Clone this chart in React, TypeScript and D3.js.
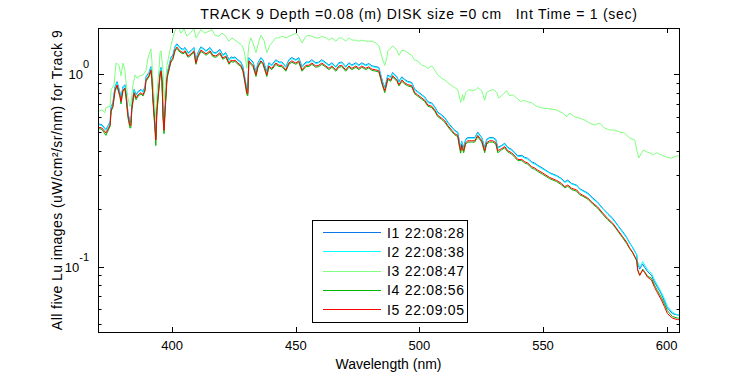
import React from "react";
import * as d3 from "d3";

const title = "TRACK 9 Depth =0.08 (m) DISK size =0 cm   Int Time = 1 (sec)";
const xLabel = "Wavelength (nm)";
const yLabel = "All five Lu images (uW/cm²/sr/nm) for Track 9";
const legendLabels = ["I1 22:08:28", "I2 22:08:38", "I3 22:08:47", "I4 22:08:56", "I5 22:09:05"];
const seriesColors = ["#0a78e8", "#00ffff", "#80ff80", "#00b400", "#ff0000"];
const xTicks = [400, 450, 500, 550, 600];
const yMajorTicks = [{ v: 1, exp: "0" }, { v: 0.1, exp: "-1" }];
const yMinorTicks = [0.05, 0.06, 0.07, 0.08, 0.09, 0.2, 0.3, 0.4, 0.5, 0.6, 0.7, 0.8, 0.9];

// wavelengths shared by I1, I2, I4, I5
const wl = [370.0,371.6,373.2,374.9,375.3,376.0,376.9,377.7,378.9,379.3,380.1,380.9,381.3,382.1,382.9,383.3,383.7,384.6,385.4,386.2,387.4,388.2,389.0,389.4,390.6,391.4,391.8,392.2,393.0,393.4,393.8,394.7,395.1,395.5,395.9,396.3,396.7,397.1,397.9,398.3,399.5,400.3,401.1,401.9,403.1,404.4,405.2,406.4,407.6,408.8,409.6,410.4,411.6,412.8,413.7,415.3,416.5,417.7,419.3,420.5,421.7,423.0,423.8,424.6,425.4,426.6,427.8,428.6,429.4,430.2,430.6,431.0,431.8,432.7,433.9,434.7,435.9,436.7,438.3,439.1,440.3,441.9,443.2,444.4,446.0,447.2,448.4,450.0,451.2,452.5,454.1,455.3,456.5,458.1,459.3,460.5,462.2,463.4,464.6,466.2,467.4,468.6,470.2,471.5,472.7,474.3,475.5,476.7,478.3,479.5,480.8,482.4,483.6,484.4,485.2,486.0,486.8,487.2,488.4,489.2,490.9,491.7,492.9,494.1,495.3,496.9,498.1,499.3,501.0,502.2,503.4,505.0,506.2,507.4,509.0,510.3,511.5,513.1,514.3,515.5,516.3,516.7,517.1,517.9,518.7,519.6,521.2,522.4,523.6,525.2,526.4,527.2,528.4,529.7,530.9,531.7,533.3,534.5,535.7,537.3,538.6,539.8,541.4,542.6,543.8,545.4,546.6,547.8,549.9,552.7,555.5,557.5,558.8,560.0,561.6,563.6,564.8,566.0,568.1,570.1,572.1,574.1,576.1,578.2,580.2,582.2,583.8,585.0,586.2,587.9,588.3,589.1,589.9,590.3,591.1,592.3,593.9,595.1,596.3,597.9,599.1,600.3,602.3,604.3,605.0];

const i5 = [0.530,0.524,0.494,0.543,0.650,0.680,0.826,0.877,0.770,0.720,0.826,0.846,0.780,0.610,0.543,0.540,0.665,0.800,0.750,0.780,0.800,0.780,0.826,0.930,0.980,1.050,0.950,0.750,0.540,0.455,0.640,0.866,0.990,1.040,0.920,0.610,0.510,0.640,0.950,1.010,1.170,1.210,1.330,1.380,1.320,1.290,1.320,1.240,1.270,1.320,1.140,1.240,1.330,1.300,1.270,1.320,1.250,1.240,1.290,1.210,1.240,1.140,1.180,1.170,1.180,1.140,1.110,1.050,0.920,0.800,0.790,1.170,1.140,1.110,0.990,1.100,1.170,1.140,0.990,1.100,1.070,1.140,1.110,1.110,1.050,1.140,1.170,1.140,1.170,1.050,1.110,1.110,1.140,1.100,1.110,1.140,1.100,1.070,1.100,1.050,1.100,1.110,1.050,1.100,1.070,1.100,1.070,1.100,1.070,1.090,1.060,1.050,1.040,0.950,0.870,0.820,0.900,0.950,0.930,0.980,0.930,0.880,0.930,0.900,0.880,0.870,0.800,0.780,0.750,0.730,0.690,0.680,0.650,0.610,0.590,0.570,0.540,0.510,0.490,0.480,0.420,0.400,0.430,0.400,0.440,0.450,0.450,0.450,0.480,0.450,0.400,0.440,0.450,0.450,0.440,0.400,0.410,0.420,0.400,0.390,0.375,0.360,0.360,0.350,0.345,0.330,0.325,0.317,0.306,0.290,0.280,0.270,0.260,0.265,0.255,0.250,0.240,0.235,0.227,0.214,0.204,0.190,0.178,0.168,0.155,0.143,0.134,0.125,0.119,0.108,0.096,0.090,0.094,0.096,0.093,0.088,0.085,0.078,0.073,0.067,0.062,0.057,0.054,0.053,0.053];

const i1 = [0.551,0.545,0.514,0.565,0.676,0.707,0.859,0.912,0.801,0.749,0.859,0.880,0.811,0.634,0.565,0.562,0.692,0.832,0.780,0.811,0.832,0.811,0.859,0.967,1.019,1.092,0.988,0.780,0.562,0.473,0.666,0.901,1.030,1.082,0.957,0.634,0.530,0.666,0.988,1.050,1.217,1.258,1.383,1.435,1.373,1.342,1.373,1.290,1.321,1.373,1.186,1.290,1.383,1.352,1.321,1.373,1.300,1.290,1.342,1.258,1.290,1.186,1.227,1.217,1.227,1.186,1.154,1.092,0.957,0.832,0.822,1.217,1.186,1.154,1.030,1.144,1.217,1.186,1.030,1.144,1.113,1.186,1.154,1.154,1.092,1.186,1.217,1.186,1.217,1.092,1.154,1.154,1.186,1.144,1.154,1.186,1.144,1.113,1.144,1.092,1.144,1.154,1.092,1.144,1.113,1.144,1.113,1.144,1.113,1.134,1.102,1.092,1.082,0.988,0.905,0.853,0.936,0.988,0.967,1.019,0.967,0.915,0.967,0.936,0.915,0.905,0.832,0.811,0.780,0.759,0.718,0.707,0.676,0.634,0.614,0.593,0.562,0.530,0.510,0.499,0.437,0.416,0.447,0.416,0.458,0.468,0.468,0.468,0.499,0.468,0.416,0.458,0.468,0.468,0.458,0.416,0.426,0.437,0.416,0.406,0.390,0.376,0.378,0.369,0.365,0.350,0.345,0.336,0.324,0.307,0.297,0.286,0.276,0.281,0.270,0.265,0.254,0.249,0.241,0.227,0.216,0.201,0.189,0.178,0.164,0.152,0.142,0.133,0.126,0.115,0.104,0.097,0.101,0.103,0.099,0.094,0.090,0.083,0.078,0.072,0.066,0.061,0.057,0.056,0.056];

const i2 = [0.546,0.540,0.509,0.559,0.670,0.700,0.851,0.903,0.793,0.742,0.851,0.871,0.803,0.628,0.559,0.556,0.685,0.824,0.773,0.803,0.824,0.803,0.851,0.958,1.009,1.082,0.979,0.773,0.556,0.469,0.659,0.892,1.020,1.071,0.948,0.628,0.525,0.659,0.979,1.040,1.205,1.246,1.370,1.421,1.360,1.329,1.360,1.277,1.308,1.360,1.174,1.277,1.370,1.339,1.308,1.360,1.288,1.277,1.329,1.246,1.277,1.174,1.215,1.205,1.215,1.174,1.143,1.082,0.948,0.824,0.814,1.205,1.174,1.143,1.020,1.133,1.205,1.174,1.020,1.133,1.102,1.174,1.143,1.143,1.082,1.174,1.205,1.174,1.205,1.082,1.143,1.143,1.174,1.133,1.143,1.174,1.133,1.102,1.133,1.082,1.133,1.143,1.082,1.133,1.102,1.133,1.102,1.133,1.102,1.123,1.092,1.082,1.071,0.979,0.896,0.845,0.927,0.979,0.958,1.009,0.958,0.906,0.958,0.927,0.906,0.896,0.824,0.803,0.773,0.752,0.711,0.700,0.670,0.628,0.608,0.587,0.556,0.525,0.505,0.494,0.433,0.412,0.443,0.412,0.453,0.464,0.464,0.464,0.494,0.464,0.412,0.453,0.464,0.464,0.453,0.412,0.422,0.433,0.412,0.402,0.386,0.372,0.374,0.365,0.361,0.346,0.341,0.333,0.321,0.305,0.294,0.284,0.273,0.278,0.268,0.263,0.252,0.247,0.238,0.225,0.214,0.200,0.187,0.176,0.163,0.150,0.141,0.132,0.126,0.115,0.105,0.099,0.103,0.106,0.102,0.096,0.092,0.085,0.080,0.073,0.068,0.062,0.058,0.056,0.056];

const i4 = [0.522,0.516,0.480,0.535,0.640,0.670,0.814,0.864,0.758,0.700,0.814,0.833,0.768,0.595,0.525,0.525,0.655,0.788,0.735,0.768,0.788,0.768,0.814,0.916,0.965,1.034,0.936,0.735,0.520,0.425,0.620,0.853,0.975,1.024,0.906,0.590,0.490,0.620,0.936,0.995,1.152,1.192,1.310,1.359,1.300,1.271,1.300,1.221,1.251,1.300,1.123,1.221,1.310,1.281,1.251,1.300,1.231,1.221,1.271,1.192,1.221,1.123,1.162,1.152,1.162,1.123,1.093,1.034,0.906,0.780,0.770,1.152,1.123,1.093,0.970,1.084,1.152,1.123,0.970,1.084,1.054,1.123,1.093,1.093,1.034,1.123,1.152,1.123,1.152,1.034,1.093,1.093,1.123,1.084,1.093,1.123,1.084,1.054,1.084,1.034,1.084,1.093,1.034,1.084,1.054,1.084,1.054,1.084,1.054,1.074,1.044,1.034,1.024,0.936,0.857,0.800,0.887,0.936,0.916,0.965,0.916,0.867,0.916,0.887,0.867,0.857,0.788,0.768,0.739,0.719,0.680,0.670,0.640,0.601,0.581,0.561,0.532,0.502,0.483,0.473,0.410,0.388,0.420,0.390,0.433,0.443,0.443,0.443,0.473,0.443,0.390,0.433,0.443,0.443,0.433,0.390,0.404,0.414,0.394,0.384,0.369,0.355,0.355,0.345,0.340,0.325,0.320,0.312,0.301,0.286,0.276,0.266,0.256,0.261,0.251,0.246,0.236,0.232,0.224,0.211,0.201,0.187,0.175,0.166,0.153,0.141,0.132,0.124,0.118,0.107,0.096,0.090,0.094,0.097,0.094,0.089,0.087,0.080,0.075,0.069,0.064,0.059,0.055,0.054,0.054];

// I3 has its own sampling
const wl3 = [370.0,371.6,372.8,373.2,374.9,375.3,376.5,377.3,378.5,379.3,380.1,380.9,381.3,382.1,382.9,383.3,384.1,385.0,385.8,387.0,388.2,389.4,390.2,391.4,391.8,392.2,393.0,393.4,393.8,394.7,395.1,395.5,396.3,396.7,397.1,397.9,398.3,399.5,400.3,401.1,402.3,403.5,404.8,406.0,407.6,408.8,409.6,410.8,411.6,413.2,414.9,416.1,417.3,418.9,420.1,421.3,423.0,424.2,425.4,427.0,428.2,429.0,429.8,430.2,431.0,431.8,432.7,433.9,435.1,435.9,437.1,438.3,439.5,440.3,441.9,443.2,444.4,446.0,447.2,448.4,450.0,451.2,452.5,454.1,455.3,456.5,458.1,459.3,460.5,462.2,463.4,464.6,466.2,467.4,468.6,470.2,471.5,472.7,474.3,475.5,476.7,478.3,479.5,480.8,482.4,483.6,484.4,485.2,486.0,486.8,487.2,488.4,489.2,490.9,491.7,492.9,494.1,495.3,496.9,498.1,499.3,501.0,502.2,503.4,505.0,506.2,507.4,509.0,510.3,511.5,513.1,514.3,515.5,516.3,516.7,517.5,517.9,518.7,520.0,521.6,522.8,523.6,525.2,526.4,527.2,528.4,530.1,531.3,532.1,533.7,535.3,536.5,537.7,539.4,541.0,542.2,543.4,545.4,547.4,549.9,552.7,555.5,558.0,559.6,560.8,562.8,564.8,566.8,568.9,570.9,572.9,574.9,576.9,579.0,581.0,583.0,585.0,587.1,587.9,588.7,589.9,590.7,591.9,593.1,594.3,595.9,597.9,599.9,601.9,603.9,605.0];

const i3 = [0.64,0.65,0.63,0.67,0.68,0.83,0.88,1.14,1.11,0.98,1.14,1.04,0.92,0.75,0.68,0.69,0.87,0.99,0.95,0.98,0.99,1.04,1.21,1.35,1.17,0.92,0.68,0.57,0.78,1.07,1.29,1.32,1.04,0.72,0.82,1.11,1.18,1.40,1.54,1.67,1.78,1.63,1.72,1.57,1.65,1.72,1.54,1.63,1.70,1.63,1.67,1.70,1.59,1.57,1.63,1.59,1.48,1.54,1.50,1.45,1.41,1.33,1.17,1.07,1.41,1.54,1.45,1.29,1.48,1.59,1.50,1.29,1.41,1.45,1.54,1.54,1.57,1.54,1.57,1.59,1.63,1.57,1.45,1.57,1.59,1.57,1.54,1.54,1.57,1.54,1.50,1.54,1.48,1.54,1.54,1.48,1.54,1.50,1.50,1.48,1.50,1.48,1.48,1.48,1.45,1.40,1.29,1.18,1.11,1.21,1.32,1.36,1.40,1.33,1.25,1.33,1.32,1.29,1.25,1.18,1.17,1.11,1.10,1.07,1.10,1.05,0.99,0.95,0.93,0.90,0.87,0.85,0.83,0.75,0.71,0.78,0.73,0.80,0.83,0.82,0.83,0.85,0.82,0.73,0.80,0.82,0.83,0.80,0.75,0.78,0.82,0.77,0.78,0.75,0.72,0.73,0.72,0.71,0.68,0.665,0.66,0.65,0.627,0.60,0.627,0.60,0.59,0.577,0.556,0.543,0.556,0.524,0.512,0.512,0.50,0.494,0.465,0.454,0.403,0.366,0.39,0.403,0.394,0.39,0.38,0.39,0.38,0.37,0.366,0.375,0.375];

const W = 750, H = 375;
const L = 98, R = 679, T = 28, B = 332;
const font = "'Liberation Sans', Arial, Helvetica, sans-serif";

export default function App() {
  const x = d3.scaleLinear().domain([370, 605]).range([L, R]);
  const y = d3.scaleLog().domain([Math.pow(10, -1.34), Math.pow(10, 0.239)]).range([B, T]);
  const series = [
    { xs: wl, ys: i1 },
    { xs: wl, ys: i2 },
    { xs: wl3, ys: i3 },
    { xs: wl, ys: i4 },
    { xs: wl, ys: i5 },
  ];
  const line = d3.line<[number, number]>().x(d => x(d[0])).y(d => y(d[1]));
  const legendRowY = (i: number) => 232 + i * 19.3;

  return (
    <svg width={W} height={H} style={{ position: "absolute", left: 0, top: 0, background: "#fff" }} fontFamily={font}>
      <defs>
        <clipPath id="plotclip">
          <rect x={L} y={T} width={R - L} height={B - T} />
        </clipPath>
      </defs>
      <rect x={0} y={0} width={W} height={H} fill="#fff" />
      <g clipPath="url(#plotclip)">
        {series.map((s, i) => (
          <path key={i} d={line(s.xs.map((v, j) => [v, s.ys[j]] as [number, number])) || ""}
            fill="none" stroke={seriesColors[i]} strokeWidth={1} />
        ))}
      </g>
      {/* axes box */}
      <rect x={L + 0.5} y={T + 0.5} width={R - L} height={B - T} fill="none" stroke="#000" strokeWidth={1} />
      {/* x ticks */}
      {xTicks.map(t => (
        <g key={t}>
          <line x1={Math.round(x(t)) + 0.5} x2={Math.round(x(t)) + 0.5} y1={B} y2={B - 5} stroke="#000" />
          <line x1={Math.round(x(t)) + 0.5} x2={Math.round(x(t)) + 0.5} y1={T} y2={T + 5} stroke="#000" />
          <text x={x(t)} y={350} fontSize={13} textAnchor="middle">{t}</text>
        </g>
      ))}
      {/* y ticks */}
      {yMajorTicks.map(t => (
        <g key={t.exp}>
          <line x1={L} x2={L + 6} y1={Math.round(y(t.v)) + 0.5} y2={Math.round(y(t.v)) + 0.5} stroke="#000" />
          <line x1={R + 1} x2={R - 5} y1={Math.round(y(t.v)) + 0.5} y2={Math.round(y(t.v)) + 0.5} stroke="#000" />
          <text x={89} y={y(t.v) + 5} fontSize={13} textAnchor="end">
            10<tspan dy={-11} fontSize={11}>{t.exp}</tspan>
          </text>
        </g>
      ))}
      {yMinorTicks.map(t => (
        <g key={t}>
          <line x1={L} x2={L + 3.5} y1={Math.round(y(t)) + 0.5} y2={Math.round(y(t)) + 0.5} stroke="#000" />
          <line x1={R + 1} x2={R - 2.5} y1={Math.round(y(t)) + 0.5} y2={Math.round(y(t)) + 0.5} stroke="#000" />
        </g>
      ))}
      {/* labels */}
      <text x={419} y={19} fontSize={14} letterSpacing={0.75} textAnchor="middle" style={{ whiteSpace: "pre" }}>{title}</text>
      <text x={(L + R) / 2} y={369} fontSize={14} textAnchor="middle">{xLabel}</text>
      <text transform={`translate(62,${(T + B) / 2}) rotate(-90)`} fontSize={14} letterSpacing={0.45} textAnchor="middle">{yLabel}</text>
      {/* legend */}
      <rect x={312.5} y={220.5} width={155} height={102} fill="#fff" stroke="#000" strokeWidth={1} />
      {legendLabels.map((lab, i) => (
        <g key={lab}>
          <line x1={323} x2={381} y1={Math.round(legendRowY(i)) + 0.5} y2={Math.round(legendRowY(i)) + 0.5} stroke={seriesColors[i]} strokeWidth={1} />
          <text x={387} y={legendRowY(i) + 5.5} fontSize={14} letterSpacing={0.7}>{lab}</text>
        </g>
      ))}
    </svg>
  );
}
